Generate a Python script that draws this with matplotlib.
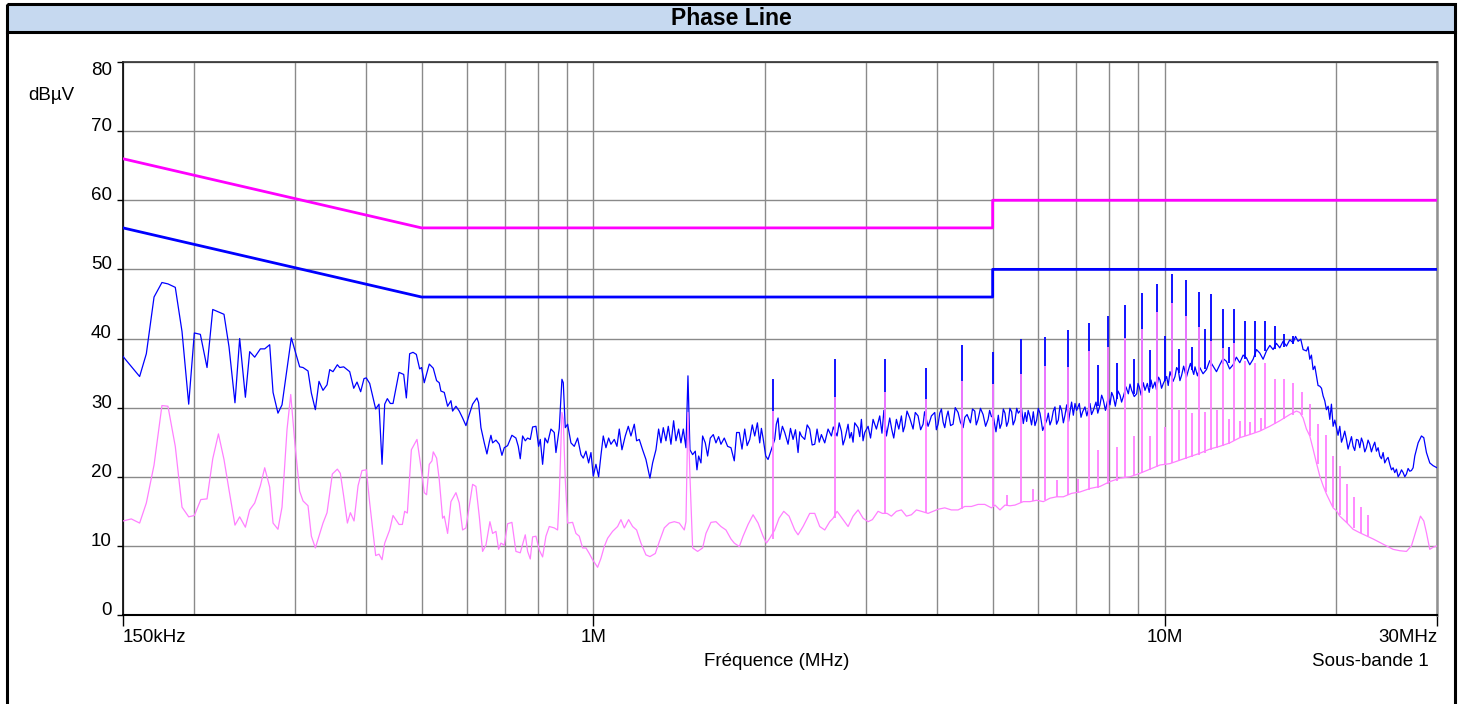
import numpy as np
import matplotlib
matplotlib.use("Agg")
import matplotlib.pyplot as plt
from matplotlib.patches import Rectangle
from matplotlib.ticker import NullLocator

plt.rcParams['font.family'] = ['Liberation Sans', 'DejaVu Sans']

# ---------------- data (MHz, dBuV) ----------------
title = "Phase Line"
x_label = "Fréquence (MHz)"
y_unit = "dBµV"
subband = "Sous-bande 1"
x_tick_vals = [0.15, 1, 10, 30]
x_tick_labels = ["150kHz", "1M", "10M", "30MHz"]
y_tick_vals = [0, 10, 20, 30, 40, 50, 60, 70, 80]

# limit lines (QP = magenta, AV = blue)
limit_f = [0.15, 0.5, 5.0, 5.0, 30.0]
limit_qp = [66, 56, 56, 60, 60]
limit_av = [56, 46, 46, 50, 50]

# peak trace (blue): (MHz, dBuV)
blue_trace = [
    (0.150, 37.4), (0.1604, 34.5), (0.1648, 37.8), (0.1700, 46.0), (0.1755, 48.1), (0.1798, 47.9),
    (0.1852, 47.4), (0.1903, 41.0), (0.1955, 30.5), (0.2000, 40.8), (0.2049, 40.6), (0.2105, 35.8),
    (0.2154, 44.2), (0.2254, 43.5), (0.2300, 38.8), (0.2356, 30.7), (0.2401, 40.0), (0.2457, 31.5),
    (0.2500, 38.1), (0.2551, 37.3), (0.2610, 38.5), (0.2656, 38.5), (0.2710, 39.1), (0.2747, 32.2),
    (0.2802, 29.2), (0.2848, 30.4), (0.2957, 40.1), (0.3058, 35.9), (0.3100, 35.8), (0.3163, 35.3),
    (0.3206, 32.1), (0.3258, 29.7), (0.3306, 33.8), (0.3360, 32.5), (0.3415, 33.3), (0.3452, 35.5),
    (0.3498, 35.2), (0.3560, 36.2), (0.3594, 35.8), (0.3652, 35.9), (0.3742, 35.2), (0.3803, 32.8),
    (0.3854, 33.7), (0.3911, 32.3), (0.3964, 34.2), (0.4000, 34.3), (0.4056, 33.5), (0.4155, 29.8),
    (0.4211, 30.5), (0.4263, 21.8), (0.4309, 30.5), (0.4355, 31.3), (0.4408, 30.6), (0.4456, 30.6),
    (0.4565, 35.1), (0.4652, 34.8), (0.4702, 31.4), (0.4765, 37.8), (0.4830, 38.0), (0.4895, 37.7),
    (0.4961, 35.6), (0.5000, 35.8), (0.5054, 33.6), (0.5157, 36.3), (0.5241, 35.7), (0.5312, 33.9),
    (0.5369, 33.6), (0.5405, 32.4), (0.5479, 32.2), (0.5553, 30.2), (0.5628, 31.0), (0.5666, 29.5),
    (0.5743, 30.2), (0.5820, 29.5), (0.5899, 28.5), (0.5979, 27.4), (0.6060, 29.0), (0.6142, 30.5),
    (0.6250, 31.4), (0.6292, 30.7), (0.6352, 27.1), (0.6438, 24.9), (0.6507, 23.3), (0.6569, 25.0),
    (0.6613, 26.0), (0.6658, 24.9), (0.6748, 25.3), (0.6839, 24.7), (0.6913, 23.1), (0.6978, 24.2),
    (0.7073, 24.5), (0.7197, 26.0), (0.7314, 25.6), (0.7384, 24.4), (0.7443, 22.6), (0.7514, 25.9),
    (0.7595, 25.2), (0.7667, 25.6), (0.7750, 25.4), (0.7823, 27.2), (0.7929, 27.3), (0.8015, 24.4),
    (0.8069, 25.4), (0.8145, 21.8), (0.8222, 25.6), (0.8311, 24.9), (0.8423, 26.9), (0.8537, 26.4),
    (0.8595, 23.5), (0.8711, 27.0), (0.8805, 34.1), (0.8853, 33.6), (0.8924, 27.1), (0.9009, 27.6),
    (0.9131, 24.9), (0.9254, 24.4), (0.9380, 25.6), (0.9507, 23.2), (0.9596, 22.7), (0.9700, 23.7),
    (0.9805, 22.0), (0.9898, 23.5), (0.9991, 20.1), (1.0099, 21.8), (1.0209, 20.0), (1.0305, 23.1),
    (1.0402, 25.9), (1.0515, 24.2), (1.0629, 25.6), (1.0729, 24.7), (1.0874, 25.4), (1.0992, 24.4),
    (1.1096, 26.9), (1.1216, 23.9), (1.1367, 25.9), (1.1506, 27.3), (1.1630, 25.9), (1.1788, 27.6),
    (1.1899, 25.2), (1.2028, 25.4), (1.2190, 23.9), (1.2355, 22.5), (1.2556, 19.8), (1.2692, 22.0),
    (1.2864, 23.9), (1.3003, 26.9), (1.3126, 24.9), (1.3250, 27.1), (1.3393, 25.2), (1.3520, 27.3),
    (1.3666, 24.7), (1.3814, 28.1), (1.3944, 25.2), (1.4095, 26.9), (1.4228, 24.9), (1.4363, 26.9),
    (1.4518, 24.2), (1.4636, 34.6), (1.4754, 23.9), (1.4914, 23.2), (1.5075, 23.7), (1.5177, 21.0),
    (1.5279, 23.0), (1.5423, 22.0), (1.5527, 25.9), (1.5695, 24.9), (1.5844, 23.0), (1.6015, 25.6),
    (1.6210, 26.1), (1.6385, 24.9), (1.6562, 25.8), (1.6719, 24.7), (1.6945, 25.6), (1.7174, 24.4),
    (1.7407, 24.2), (1.7642, 22.3), (1.7809, 26.4), (1.8002, 26.4), (1.820, 24.0), (1.8401, 26.9),
    (1.858, 24.5), (1.8776, 25.4), (1.897, 27.5), (1.9158, 25.9), (1.9365, 27.8), (1.9548, 24.9),
    (1.968, 27.0), (1.9813, 25.6), (2.0027, 23.0), (2.0216, 22.5), (2.0407, 23.5), (2.0767, 25.4),
    (2.090, 27.6), (2.1048, 28.5), (2.1190, 25.4), (2.1419, 27.3), (2.1622, 26.4), (2.1914, 24.7),
    (2.213, 27.0), (2.2361, 25.4), (2.258, 26.8), (2.2816, 23.5), (2.297, 26.5), (2.3125, 25.9),
    (2.3438, 25.4), (2.367, 27.5), (2.3915, 26.9), (2.415, 24.6), (2.4402, 24.7), (2.4633, 26.9),
    (2.485, 25.0), (2.5067, 26.1), (2.5407, 24.9), (2.5750, 26.9), (2.6099, 25.9), (2.630, 27.2),
    (2.6702, 25.9), (2.693, 27.8), (2.7173, 26.6), (2.735, 24.6), (2.7541, 25.4), (2.7913, 27.6),
    (2.810, 25.6), (2.8291, 26.4), (2.848, 25.0), (2.8674, 27.8), (2.9062, 27.1), (2.926, 25.8),
    (2.9455, 28.3), (2.965, 25.2), (2.9854, 26.4), (3.0258, 27.3), (3.056, 25.6), (3.0874, 28.3),
    (3.1292, 26.9), (3.1715, 28.8), (3.200, 26.3), (3.225, 29.6), (3.2579, 25.9), (3.3020, 28.5),
    (3.330, 26.8), (3.3557, 25.6), (3.3920, 28.3), (3.425, 26.9), (3.4611, 28.8), (3.485, 26.5),
    (3.5080, 27.3), (3.540, 29.5), (3.5794, 28.5), (3.6278, 26.9), (3.660, 29.3), (3.7017, 28.8),
    (3.740, 26.8), (3.7772, 27.6), (3.800, 29.4), (3.8541, 27.3), (3.880, 28.0), (3.9062, 28.8),
    (3.9591, 29.3), (3.985, 26.8), (4.0127, 27.6), (4.040, 29.2), (4.0670, 29.8), (4.095, 27.9),
    (4.1220, 27.1), (4.150, 28.6), (4.1778, 29.5), (4.220, 27.4), (4.2628, 27.6), (4.300, 30.0),
    (4.3497, 29.3), (4.390, 27.9), (4.4383, 27.1), (4.470, 28.6), (4.5104, 29.0), (4.5715, 27.8),
    (4.610, 29.8), (4.6521, 29.5), (4.680, 27.5), (4.7150, 28.3), (4.760, 29.9), (4.8110, 29.0),
    (4.860, 27.3), (4.9090, 28.3), (4.940, 29.6), (4.9755, 28.7), (5.0135, 28.7), (5.0677, 26.5),
    (5.1156, 28.9), (5.150, 27.0), (5.1848, 27.7), (5.220, 29.8), (5.2549, 29.2), (5.290, 27.3),
    (5.3261, 28.0), (5.360, 29.9), (5.3982, 29.4), (5.430, 27.5), (5.4712, 28.2), (5.510, 29.9),
    (5.5452, 29.2), (5.620, 29.8), (5.6582, 27.7), (5.700, 29.3), (5.7348, 28.0), (5.770, 29.6),
    (5.8124, 28.7), (5.850, 27.5), (5.8910, 29.4), (5.930, 27.4), (5.9708, 28.2), (6.010, 29.9),
    (6.0516, 29.2), (6.085, 28.0), (6.1171, 26.7), (6.220, 28.2), (6.2585, 29.2), (6.300, 27.5),
    (6.3431, 28.2), (6.385, 29.5), (6.4289, 30.1), (6.470, 27.6), (6.5159, 28.2), (6.560, 30.3),
    (6.6041, 29.6), (6.650, 27.8), (6.6935, 28.9), (6.740, 30.4), (6.790, 28.0), (6.8298, 29.4),
    (6.875, 30.8), (6.9223, 28.9), (6.970, 30.6), (7.0160, 29.6), (7.0918, 30.6), (7.140, 28.6),
    (7.1878, 29.4), (7.2557, 30.1), (7.310, 28.8), (7.4035, 30.6), (7.450, 29.0), (7.5037, 29.6),
    (7.5848, 30.8), (7.640, 29.2), (7.7082, 30.4), (7.760, 31.8), (7.8124, 31.1), (7.880, 29.6),
    (7.970, 31.5), (8.0254, 30.4), (8.080, 32.2), (8.1340, 31.6), (8.200, 30.2), (8.290, 32.4),
    (8.3556, 31.8), (8.410, 30.8), (8.4686, 31.6), (8.560, 33.0), (8.6412, 32.0), (8.700, 33.4),
    (8.7581, 32.5), (8.850, 31.6), (8.9365, 32.0), (8.985, 33.5), (9.0331, 33.0), (9.100, 31.8),
    (9.180, 33.6), (9.2420, 32.5), (9.3294, 33.5), (9.400, 32.2), (9.470, 34.0), (9.5322, 32.8),
    (9.6222, 33.7), (9.680, 32.6), (9.760, 34.4), (9.8183, 34.0), (9.880, 32.8), (9.9512, 33.5),
    (10.086, 34.5), (10.150, 33.2), (10.222, 35.2), (10.350, 33.8), (10.430, 34.5), (10.500, 35.8),
    (10.572, 35.4), (10.640, 33.9), (10.715, 34.7), (10.800, 36.0), (10.920, 34.4), (11.007, 35.4),
    (11.100, 36.4), (11.250, 34.8), (11.306, 35.9), (11.420, 34.6), (11.526, 35.8), (11.680, 34.9),
    (11.840, 35.5), (12.000, 36.8), (12.163, 36.0), (12.330, 35.2), (12.494, 36.2), (12.660, 37.1),
    (12.835, 36.7), (13.000, 35.6), (13.184, 36.2), (13.360, 37.3), (13.544, 36.5), (13.730, 37.6),
    (13.913, 37.2), (14.100, 36.2), (14.292, 37.0), (14.490, 38.4), (14.681, 37.9), (14.880, 37.0),
    (15.081, 38.2), (15.290, 39.0), (15.492, 38.4), (15.700, 39.3), (15.914, 38.65), (16.130, 39.6),
    (16.348, 38.9), (16.570, 39.8), (16.793, 39.4), (16.960, 40.3), (17.135, 39.6), (17.321, 39.9),
    (17.484, 38.4), (17.721, 38.2), (17.840, 38.8), (17.961, 37.0), (18.080, 37.6), (18.204, 35.5),
    (18.330, 36.0), (18.450, 34.6), (18.570, 33.2), (18.700, 33.1), (18.830, 32.8), (18.953, 31.7),
    (19.080, 31.0), (19.209, 29.7), (19.340, 30.2), (19.470, 28.3), (19.600, 30.5), (19.733, 27.3),
    (19.870, 28.2), (20.000, 27.1), (20.130, 26.0), (20.271, 27.3), (20.410, 25.0), (20.545, 25.7),
    (20.680, 26.6), (20.823, 25.4), (20.960, 24.0), (21.105, 24.9), (21.250, 25.8), (21.390, 24.4),
    (21.530, 23.8), (21.680, 25.4), (21.830, 25.3), (21.973, 24.2), (22.120, 25.6), (22.271, 24.9),
    (22.420, 23.6), (22.572, 24.2), (22.720, 25.3), (22.877, 24.7), (23.030, 23.6), (23.187, 24.4),
    (23.340, 25.0), (23.501, 23.7), (23.660, 24.2), (23.819, 23.0), (23.980, 22.6), (24.141, 23.5),
    (24.300, 22.0), (24.468, 22.5), (24.630, 22.8), (24.799, 21.8), (24.970, 21.0), (25.135, 21.3),
    (25.300, 20.6), (25.475, 21.1), (25.650, 20.0), (25.820, 20.4), (26.000, 21.0), (26.169, 20.6),
    (26.350, 20.0), (26.523, 20.4), (26.700, 21.2), (26.882, 20.8), (27.060, 20.9), (27.246, 21.3),
    (27.430, 23.0), (27.801, 24.9), (28.177, 25.9), (28.444, 25.65), (28.751, 23.5), (29.140, 22.0),
    (29.534, 21.6), (30.000, 21.3),
]

# average trace (pink): (MHz, dBuV)
pink_trace = [
    (0.150, 13.6), (0.1551, 13.9), (0.1604, 13.3), (0.1648, 16.2), (0.1700, 21.7), (0.1755, 30.3),
    (0.1798, 30.2), (0.1852, 24.4), (0.1903, 15.6), (0.1955, 14.2), (0.2000, 14.4), (0.2053, 16.7),
    (0.2105, 16.8), (0.2154, 22.6), (0.2204, 26.2), (0.2254, 22.5), (0.2300, 18.1), (0.2356, 13.0),
    (0.2401, 14.2), (0.2457, 12.7), (0.2500, 15.2), (0.2551, 16.2), (0.2610, 18.7), (0.2656, 21.3),
    (0.2710, 18.5), (0.2747, 13.3), (0.2802, 12.4), (0.2848, 15.6), (0.2906, 26.8), (0.2950, 31.9),
    (0.3000, 24.8), (0.3058, 17.9), (0.3100, 16.5), (0.3163, 15.8), (0.3206, 11.4), (0.3258, 9.7),
    (0.3306, 11.4), (0.3360, 13.3), (0.3415, 14.8), (0.3489, 20.4), (0.3560, 21.1), (0.3603, 20.5),
    (0.3652, 17.2), (0.3707, 13.3), (0.3752, 14.8), (0.3808, 13.6), (0.3870, 18.7), (0.3932, 20.9),
    (0.4002, 21.0), (0.4056, 16.2), (0.4155, 8.6), (0.4211, 8.8), (0.4263, 8.0), (0.4309, 10.4),
    (0.4396, 12.3), (0.4456, 14.4), (0.4565, 13.1), (0.4627, 13.1), (0.4670, 15.0), (0.4721, 14.75),
    (0.4798, 23.9), (0.4908, 25.4), (0.4995, 21.0), (0.5054, 17.7), (0.5102, 17.4), (0.5157, 21.8),
    (0.5213, 22.3), (0.5241, 23.6), (0.5312, 22.7), (0.5369, 19.6), (0.5442, 14.0), (0.5479, 14.3),
    (0.5553, 11.8), (0.5628, 16.4), (0.5743, 17.7), (0.5820, 16.2), (0.5899, 12.3), (0.5979, 12.6),
    (0.6060, 15.7), (0.6142, 18.9), (0.6225, 18.6), (0.6309, 14.3), (0.6394, 9.2), (0.6481, 10.1),
    (0.6586, 13.5), (0.6658, 11.8), (0.6748, 12.1), (0.6821, 9.5), (0.6885, 10.4), (0.6978, 10.1),
    (0.7073, 13.2), (0.7197, 13.4), (0.7314, 9.2), (0.7443, 9.0), (0.7595, 11.6), (0.7667, 9.2),
    (0.7750, 8.1), (0.7823, 11.3), (0.7929, 11.4), (0.8036, 9.4), (0.8145, 8.4), (0.8255, 11.4),
    (0.8367, 12.8), (0.8537, 12.6), (0.8653, 12.3), (0.8711, 17.2), (0.8805, 29.3), (0.8853, 28.3),
    (0.8924, 19.6), (0.9009, 13.3), (0.9192, 13.4), (0.9317, 11.8), (0.9443, 11.4), (0.9571, 9.7),
    (0.9700, 9.7), (0.9831, 8.9), (0.9964, 8.0), (1.0167, 6.9), (1.0305, 8.2), (1.0444, 9.9),
    (1.0586, 11.1), (1.0801, 12.1), (1.1021, 12.8), (1.1171, 13.8), (1.1322, 12.6), (1.1521, 13.8),
    (1.1709, 12.8), (1.1899, 12.3), (1.2109, 10.4), (1.2355, 8.7), (1.2556, 8.45), (1.2830, 8.9),
    (1.3038, 10.6), (1.3304, 12.6), (1.3575, 13.3), (1.3851, 13.5), (1.4133, 13.3), (1.4421, 12.3),
    (1.4518, 13.5), (1.4636, 29.3), (1.4754, 20.1), (1.4914, 9.7), (1.5217, 9.2), (1.5527, 9.7),
    (1.5737, 11.8), (1.6058, 13.4), (1.6385, 13.5), (1.6719, 12.8), (1.7059, 12.3), (1.7407, 11.0),
    (1.7642, 10.4), (1.8002, 9.9), (1.8278, 11.4), (1.8650, 13.1), (1.9030, 14.5), (1.9417, 13.3),
    (1.9813, 11.4), (2.0081, 10.4), (2.0353, 11.1), (2.0767, 12.3), (2.1133, 14.0), (2.1535, 15.0),
    (2.2003, 14.3), (2.2511, 12.3), (2.2816, 11.6), (2.3281, 12.8), (2.3915, 14.7), (2.4402, 14.7),
    (2.4899, 12.8), (2.5407, 12.3), (2.5924, 13.5), (2.6275, 14.0), (2.6702, 15.0), (2.7356, 13.8),
    (2.7913, 12.8), (2.8482, 14.3), (2.9062, 15.2), (2.9654, 14.0), (3.0258, 13.5), (3.0791, 13.8),
    (3.1503, 15.0), (3.2058, 14.7), (3.2667, 14.7), (3.3243, 14.3), (3.3920, 15.0), (3.4611, 15.2),
    (3.5316, 14.3), (3.6035, 14.5), (3.6769, 15.2), (3.7518, 15.0), (3.8541, 14.7), (3.9326, 15.0),
    (4.0127, 15.3), (4.1220, 15.5), (4.2343, 15.2), (4.3497, 15.2), (4.4682, 15.7), (4.5900, 15.7),
    (4.7150, 16.0), (4.8435, 16.0), (4.9755, 15.5), (5.0473, 15.9), (5.1501, 15.2), (5.2549, 15.9),
    (5.3620, 15.8), (5.4712, 15.9), (5.5452, 16.1), (5.6582, 16.4), (5.8124, 16.4), (5.9708, 16.6),
    (6.1335, 16.4), (6.3006, 16.9), (6.4723, 17.1), (6.6486, 17.1), (6.8759, 17.6), (7.1109, 17.8),
    (7.4035, 18.3), (7.7082, 18.6), (8.0254, 19.3), (8.3556, 19.8), (8.6994, 20.0), (9.0575, 20.5),
    (9.4302, 21.1), (9.8183, 21.7), (10.222, 21.9), (10.643, 22.4), (11.081, 22.9), (11.526, 23.4),
    (12.000, 24.0), (12.494, 24.4), (13.008, 24.9), (13.544, 25.65), (14.101, 26.1), (14.681, 26.6),
    (15.285, 27.3), (15.914, 28.1), (16.569, 29.0), (17.021, 29.5), (17.251, 29.3), (17.484, 28.5),
    (17.721, 26.9), (17.961, 25.9), (18.204, 24.0), (18.450, 22.0), (18.700, 20.1), (18.953, 18.7),
    (19.209, 17.5), (19.470, 16.5), (19.733, 15.5), (20.000, 15.1), (20.271, 14.3), (20.823, 13.4),
    (21.390, 12.4), (21.973, 11.9), (22.572, 11.45), (23.187, 11.0), (23.819, 10.5), (24.468, 10.0),
    (25.135, 9.5), (25.820, 9.3), (26.523, 9.2), (27.063, 10.0), (27.615, 12.4), (28.064, 14.3),
    (28.444, 13.6), (28.751, 11.9), (29.140, 9.5), (29.534, 9.8), (30.000, 10.0),
]

# narrow harmonic spikes: frequency, trace level at the foot, top level
blue_spike_f = [2.0615, 2.6505, 3.2395, 3.8285, 4.4175, 5.0065, 5.5955, 6.1845, 6.7735, 7.3625,
                7.657, 7.9515, 8.246, 8.5405, 8.835, 9.1295, 9.424, 9.7185, 10.013, 10.3075,
                10.602, 10.8965, 11.191, 11.4855, 11.78, 12.0745, 12.6635, 12.958, 13.2525, 13.8415,
                14.4305, 15.0195, 15.6085, 16.1975, 16.7865]
blue_spike_base = [25.5, 25.9, 26.5, 27.3, 27.5, 28.0, 28.7, 28.0, 29.0, 30.0,
                   30.3, 30.8, 31.3, 31.8, 32.0, 32.7, 33.0, 33.5, 33.8, 34.5,
                   35.0, 35.0, 35.5, 35.6, 35.6, 36.0, 36.3, 36.4, 36.3, 37.0,
                   37.3, 38.2, 38.5, 38.8, 39.2]
blue_spike_top = [34.2, 37.0, 37.1, 35.8, 39.1, 38.1, 40.0, 40.2, 41.2, 42.2,
                  36.2, 43.3, 36.5, 44.9, 37.0, 46.6, 38.4, 47.9, 40.4, 49.4,
                  38.5, 48.5, 38.7, 46.7, 41.4, 46.4, 44.2, 38.8, 44.2, 42.6,
                  42.5, 42.6, 41.8, 40.6, 40.4]

pink_spike_f = [2.0615, 2.6505, 3.2395, 3.8285, 4.4175, 5.0065, 5.301, 5.5955, 5.890, 6.1845,
                6.479, 6.7735, 7.068, 7.3625, 7.657, 7.9515, 8.246, 8.5405, 8.835, 9.1295,
                9.424, 9.7185, 10.013, 10.3075, 10.602, 10.8965, 11.191, 11.4855, 11.78, 12.0745,
                12.369, 12.6635, 12.958, 13.2525, 13.547, 13.8415, 14.136, 14.4305, 14.725, 15.0195,
                15.6085, 16.1975, 16.7865, 17.3755, 17.9645, 18.5535, 19.1425, 19.7315, 20.3205, 20.9095,
                21.4985, 22.0875, 22.6765]
pink_spike_base = [11.0, 14.0, 14.7, 14.8, 15.3, 15.8, 15.8, 16.2, 16.5, 16.6,
                   17.0, 17.4, 17.7, 18.1, 18.4, 18.9, 19.4, 19.8, 20.2, 20.6,
                   21.0, 21.4, 21.7, 22.0, 22.3, 22.6, 22.9, 23.2, 23.5, 23.8,
                   24.2, 24.5, 24.8, 25.2, 25.6, 25.9, 26.1, 26.3, 26.6, 27.0,
                   27.6, 28.3, 28.9, 29.0, 25.9, 21.8, 17.8, 15.6, 14.4, 13.3,
                   12.6, 11.9, 11.4]
pink_spike_top = [29.5, 31.5, 32.2, 31.2, 33.9, 33.4, 17.3, 34.8, 18.2, 36.0,
                  19.6, 35.9, 19.7, 38.2, 23.9, 38.8, 24.3, 40.1, 25.9, 41.4,
                  25.9, 43.9, 27.2, 45.1, 29.6, 43.2, 29.2, 41.7, 29.4, 39.6,
                  29.7, 38.65, 28.3, 39.4, 28.1, 36.7, 27.9, 36.5, 28.5, 36.5,
                  34.1, 34.1, 33.6, 32.2, 30.5, 27.7, 26.0, 23.0, 21.6, 18.9,
                  17.0, 15.6, 14.4]

minor_grid = [0.2, 0.3, 0.4, 0.5, 0.6, 0.7, 0.8, 0.9, 2, 3, 4, 5, 6, 7, 8, 9, 20]

blue_f, blue_v = zip(*blue_trace)
pink_f, pink_v = zip(*pink_trace)

# ---------------- figure ----------------
W, H = 1462, 704
fig = plt.figure(figsize=(W / 100, H / 100), dpi=100)

bg = fig.add_axes([0, 0, 1, 1])
bg.set_xlim(0, W)
bg.set_ylim(H, 0)
bg.axis('off')
bg.add_patch(Rectangle((7, 4), 1448, 28, facecolor='#C6D9F0', edgecolor='none', zorder=1))
bg.add_patch(Rectangle((7, 4), 1448, 705, facecolor='none', edgecolor='black', lw=2.2, zorder=2))
bg.plot([7, 1455], [32, 32], color='black', lw=2.2, zorder=2)
bg.text(731, 18.5, title, ha='center', va='center', fontsize=16.5, fontweight='bold')
bg.text(28, 95, y_unit, ha='left', va='center', fontsize=13.5)
bg.text(777, 661, x_label, ha='center', va='center', fontsize=13.5)
bg.text(1429, 661, subband, ha='right', va='center', fontsize=13.5)

l, r, t, b = 123, 1437, 62, 615
ax = fig.add_axes([l / W, (H - b) / H, (r - l) / W, (b - t) / H])
ax.set_facecolor('none')
ax.set_xscale('log')
ax.set_xlim(0.15, 30)
ax.set_ylim(0, 80)

ax.set_xticks(x_tick_vals)
ax.set_xticklabels(x_tick_labels)
ax.set_xticks(minor_grid, minor=True)
ax.xaxis.set_minor_formatter(plt.NullFormatter())
ax.set_yticks(y_tick_vals)
ax.set_yticklabels([str(v) for v in y_tick_vals])
ax.yaxis.set_minor_locator(NullLocator())

ax.tick_params(axis='x', which='major', length=8, width=1, direction='out', pad=2,
               labelsize=13.5, color='black')
ax.tick_params(axis='x', which='minor', length=0)
ax.tick_params(axis='y', which='major', length=4.5, width=1, direction='out', pad=3.5,
               labelsize=13.5)
xl = ax.get_xticklabels()
xl[0].set_ha('left')
xl[-1].set_ha('right')
for lab in ax.get_yticklabels():
    lab.set_va('baseline')
ax.get_yticklabels()[-1].set_va('top')

ax.grid(True, which='both', axis='x', color='#8a8a8a', lw=1.0)
ax.grid(True, which='major', axis='y', color='#8a8a8a', lw=1.0)
ax.set_axisbelow(True)

ax.spines['left'].set_color('black')
ax.spines['left'].set_linewidth(1.2)
ax.spines['bottom'].set_color('black')
ax.spines['bottom'].set_linewidth(1.5)
ax.spines['top'].set_color('#303030')
ax.spines['top'].set_linewidth(1.2)
ax.spines['right'].set_color('#909090')
ax.spines['right'].set_linewidth(1.8)

ax.plot(blue_f, blue_v, color='#0000FF', lw=0.9, zorder=3)
ax.vlines(blue_spike_f, blue_spike_base, blue_spike_top, color='#0000FF', lw=1.3, zorder=3)
ax.plot(pink_f, pink_v, color='#FF80FF', lw=0.9, zorder=4)
ax.vlines(pink_spike_f, pink_spike_base, pink_spike_top, color='#FF80FF', lw=1.3, zorder=4)
ax.plot(limit_f, limit_qp, color='#FF00FF', lw=2.0, zorder=5)
ax.plot(limit_f, limit_av, color='#0000FF', lw=2.0, zorder=5)

fig.savefig('out.png', dpi=100)
